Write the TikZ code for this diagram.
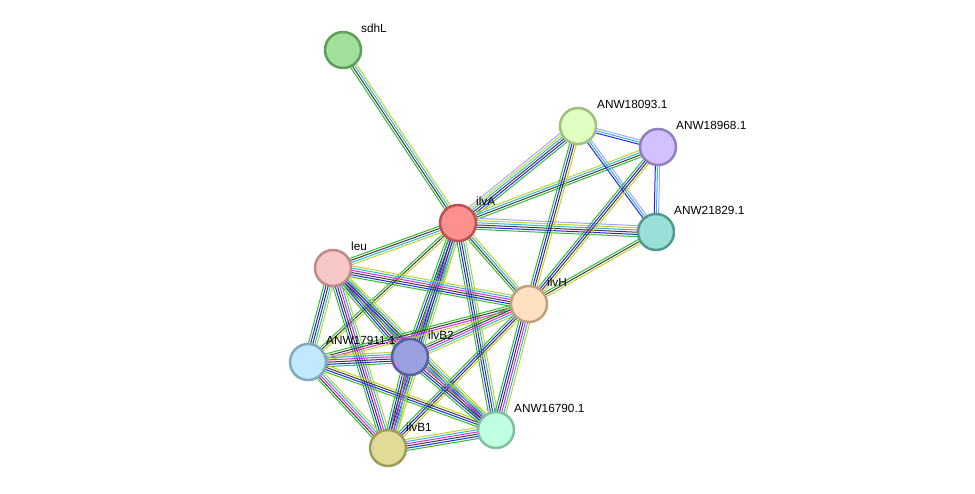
\documentclass[tikz,border=0pt]{standalone}
\usepackage{fontspec}
\setmainfont{Liberation Sans}
\usetikzlibrary{calc}

\pgfdeclarelayer{background}
\pgfsetlayers{background,main}

\definecolor{eg}{RGB}{45,190,45}
\definecolor{eb}{RGB}{35,35,240}
\definecolor{ek}{RGB}{60,60,60}
\definecolor{em}{RGB}{220,40,220}
\definecolor{ec}{RGB}{45,180,220}
\definecolor{ey}{RGB}{190,210,40}
\definecolor{el}{RGB}{165,165,250}

% one bundle of parallel lines between two nodes
\newcommand{\link}[3]{%
  \foreach \c [count=\k] in {#3} {\xdef\nlines{\k}}%
  \foreach \c [count=\k] in {#3} {%
    \pgfmathsetmacro{\off}{(\k-(\nlines+1)/2)*2.2}%
    \draw[edge, \c] ($(#1.center)!\off pt!90:(#2.center)$) -- ($(#2.center)!\off pt!-90:(#1.center)$);
  }}

\begin{document}
\begin{tikzpicture}[x=1pt, y=-1pt,
    prot/.style={circle, draw, line width=2.5pt, minimum size=36pt, inner sep=0pt},
    lbl/.style={anchor=base west, font=\fontsize{11.8}{13}\selectfont, inner sep=0pt},
    edge/.style={line width=1pt}]
        \useasboundingbox (0,0) rectangle (975,494);

        % Nodes
        \node[prot, fill={rgb,255:red,160;green,224;blue,154}, draw={rgb,255:red,94;green,158;blue,88}] (sdhL) at (343,50) {};
        \node[prot, fill={rgb,255:red,255;green,144;blue,144}, draw={rgb,255:red,192;green,80;blue,80}] (ilvA) at (458,223) {};
        \node[prot, fill={rgb,255:red,224;green,255;blue,192}, draw={rgb,255:red,160;green,192;blue,128}] (a18093) at (578,126) {};
        \node[prot, fill={rgb,255:red,210;green,192;blue,255}, draw={rgb,255:red,144;green,128;blue,192}] (a18968) at (658,147) {};
        \node[prot, fill={rgb,255:red,152;green,224;blue,216}, draw={rgb,255:red,80;green,152;blue,144}] (a21829) at (656,232) {};
        \node[prot, fill={rgb,255:red,248;green,200;blue,200}, draw={rgb,255:red,192;green,136;blue,136}] (leu) at (333,268) {};
        \node[prot, fill={rgb,255:red,255;green,224;blue,192}, draw={rgb,255:red,192;green,160;blue,128}] (ilvH) at (529,304) {};
        \node[prot, fill={rgb,255:red,192;green,232;blue,255}, draw={rgb,255:red,128;green,168;blue,192}] (a17911) at (308,362) {};
        \node[prot, fill={rgb,255:red,152;green,160;blue,224}, draw={rgb,255:red,88;green,95;blue,159}] (ilvB2) at (410,357) {};
        \node[prot, fill={rgb,255:red,192;green,255;blue,224}, draw={rgb,255:red,128;green,192;blue,160}] (a16790) at (496,430) {};
        \node[prot, fill={rgb,255:red,224;green,220;blue,152}, draw={rgb,255:red,160;green,156;blue,88}] (ilvB1) at (388,448) {};

        % Labels
        \node[lbl] (tsdhL) at ($(sdhL)+(18,-17)$) {sdhL};
        \node[lbl] (tilvA) at ($(ilvA)+(18,-17)$) {ilvA};
        \node[lbl] (t18093) at ($(a18093)+(19,-17)$) {ANW18093.1};
        \node[lbl] (t18968) at ($(a18968)+(18,-17)$) {ANW18968.1};
        \node[lbl] (t21829) at ($(a21829)+(18,-17)$) {ANW21829.1};
        \node[lbl] (tleu) at ($(leu)+(18,-17)$) {leu};
        \node[lbl] (tilvH) at ($(ilvH)+(18,-17)$) {ilvH};
        \node[lbl] (t17911) at ($(a17911)+(18,-17)$) {ANW17911.1};
        \node[lbl] (tilvB2) at ($(ilvB2)+(18,-17)$) {ilvB2};
        \node[lbl] (t16790) at ($(a16790)+(18,-17)$) {ANW16790.1};
        \node[lbl] (tilvB1) at ($(ilvB1)+(18,-17)$) {ilvB1};

        % Edges
        \begin{pgfonlayer}{background}
        \link{sdhL}{ilvA}{eg,ek,ec,ey}
        \link{ilvA}{a18093}{eg,eb,ek,ec,ey,el}
        \link{ilvA}{a18968}{eg,ek,ec,ey}
        \link{ilvA}{a21829}{eg,eb,ek,ec,ey,el}
        \link{ilvA}{ilvH}{eg,ek,ec,ey}
        \link{ilvA}{leu}{eg,ek,ec,ey}
        \link{ilvA}{a17911}{eg,ek,ey}
        \link{ilvA}{ilvB2}{eg,eb,ek,em,ec,ey}
        \link{ilvA}{ilvB1}{eg,eb,ek,ec,ey}
        \link{ilvA}{a16790}{eg,eb,ek,ec,ey}
        \link{a18093}{a18968}{eb,ec,el}
        \link{a18093}{a21829}{eb,ec,el}
        \link{a18093}{ilvH}{eg,eb,ek,ey}
        \link{a18968}{a21829}{eb,ec,el}
        \link{a18968}{ilvH}{eg,eb,ek,ey}
        \link{a21829}{ilvH}{eg,ek,ey}
        \link{leu}{ilvH}{eg,eb,ek,em,ec,ey}
        \link{leu}{a17911}{eg,eb,ek,ec,ey}
        \link{leu}{ilvB2}{eg,eb,ek,em,ec,ey}
        \link{leu}{ilvB1}{eg,eb,ek,em,ec,ey}
        \link{leu}{a16790}{eg,eb,ek,ec,ey}
        \link{ilvH}{a17911}{eg,ek,em,ey}
        \link{ilvH}{ilvB2}{eg,ek,em,ec,ey}
        \link{ilvH}{ilvB1}{eg,eb,ek,ey}
        \link{ilvH}{a16790}{eg,eb,ek,em,ec,ey}
        \link{a17911}{ilvB2}{eg,eb,ek,em,ec,ey}
        \link{a17911}{ilvB1}{eg,ek,em,ec,ey}
        \link{a17911}{a16790}{eg,eb,ek,ey}
        \link{ilvB2}{ilvB1}{eg,eb,ek,em,ec,ey}
        \link{ilvB2}{a16790}{eg,eb,ek,em,ec,ey}
        \link{ilvB1}{a16790}{eg,eb,ek,em,ec,ey}
        \end{pgfonlayer}
    \end{tikzpicture}
\end{document}
